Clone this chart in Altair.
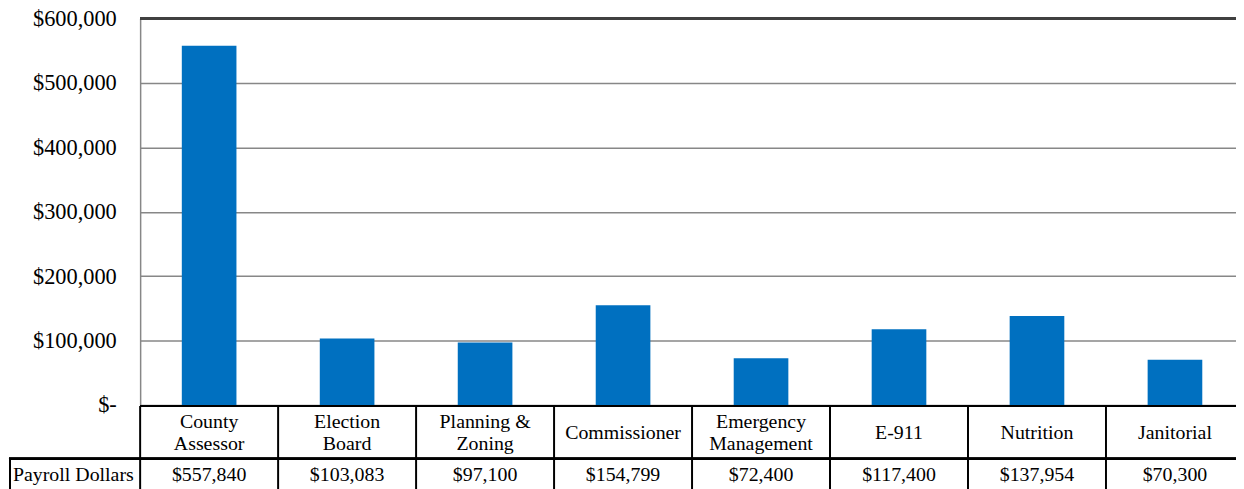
import altair as alt
import pandas as pd

categories = ["County Assessor", "Election Board", "Planning & Zoning", "Commissioner",
              "Emergency Management", "E-911", "Nutrition", "Janitorial"]
labels = ["County\nAssessor", "Election\nBoard", "Planning &\nZoning", "Commissioner",
          "Emergency\nManagement", "E-911", "Nutrition", "Janitorial"]
payroll = [557840, 103083, 97100, 154799, 72400, 117400, 137954, 70300]
value_labels = ["$557,840", "$103,083", "$97,100", "$154,799", "$72,400", "$117,400", "$137,954", "$70,300"]
y_ticks = [0, 100000, 200000, 300000, 400000, 500000, 600000]
row_title = ["Payroll Dollars"]

df = pd.DataFrame({"cat": categories, "label": labels, "value": payroll, "value_text": value_labels})
title_df = pd.DataFrame({"t": row_title})

W = 1103
H = 389
BOTTOM = 472
FONT = "Liberation Serif"
BLACK = "#000000"

xscale = alt.Scale(domain=categories, range=[0, 1111], paddingInner=0, paddingOuter=0)
yscale = alt.Scale(domain=[0, 600000], nice=False)

base = alt.Chart(df)

bars = base.mark_bar(size=55, color="#0070C0").encode(
    x=alt.X("cat:N", scale=xscale, axis=None, sort=categories),
    y=alt.Y("value:Q", scale=yscale, axis=alt.Axis(
        values=y_ticks, grid=True, gridColor="#878787", gridWidth=1.5,
        domainColor="#878787", domainWidth=1.5, ticks=False,
        labelFont=FONT, labelFontSize=22.5, labelColor="black", labelPadding=24,
        labelExpr="datum.value == 0 ? '$-' : '$' + format(datum.value, ',')",
        title=None)),
)

top_rule = base.mark_rule(color="#404040", strokeWidth=2).encode(
    x=alt.value(0), x2=alt.value(W), y=alt.value(0))

table_top = base.mark_rule(color=BLACK, strokeWidth=2).encode(
    x=alt.value(0), x2=alt.value(W), y=alt.value(H + 1))
row_div = base.mark_rule(color=BLACK, strokeWidth=2).encode(
    x=alt.value(-132), x2=alt.value(W), y=alt.value(443))
outer_left = base.mark_rule(color=BLACK, strokeWidth=2).encode(
    x=alt.value(-131), y=alt.value(443), y2=alt.value(BOTTOM + 10))
dividers = base.mark_rule(color=BLACK, strokeWidth=2).encode(
    x=alt.X("cat:N", scale=xscale, axis=None, bandPosition=0, sort=categories),
    y=alt.value(H + 1), y2=alt.value(BOTTOM + 10))

text_props = dict(font=FONT, fontSize=20, lineBreak="\n", lineHeight=22,
                  baseline="middle", align="center", color=BLACK)
cat_x = alt.X("cat:N", scale=xscale, axis=None, bandPosition=0.5, sort=categories)

cat_text_two = base.transform_filter("indexof(datum.label, '\\n') >= 0").mark_text(**text_props).encode(
    x=cat_x, y=alt.value(406), text="label:N")
cat_text_one = base.transform_filter("indexof(datum.label, '\\n') < 0").mark_text(**text_props).encode(
    x=cat_x, y=alt.value(417), text="label:N")
val_text = base.mark_text(**text_props).encode(
    x=cat_x, y=alt.value(460), text="value_text:N")
title_text = alt.Chart(title_df).mark_text(font=FONT, fontSize=20, baseline="middle",
                                           align="left", color=BLACK).encode(
    x=alt.value(-128), y=alt.value(460), text="t:N")

chart = alt.layer(bars, top_rule, table_top, row_div, outer_left, dividers,
                  cat_text_two, cat_text_one, val_text, title_text).properties(
    width=W, height=H,
    autosize=alt.AutoSizeParams(type="none"),
    padding={"left": 133, "top": 9, "right": 0, "bottom": 83},
).configure_view(stroke=None)

chart.save("out.html", embed_options={"renderer": "svg", "actions": False})
